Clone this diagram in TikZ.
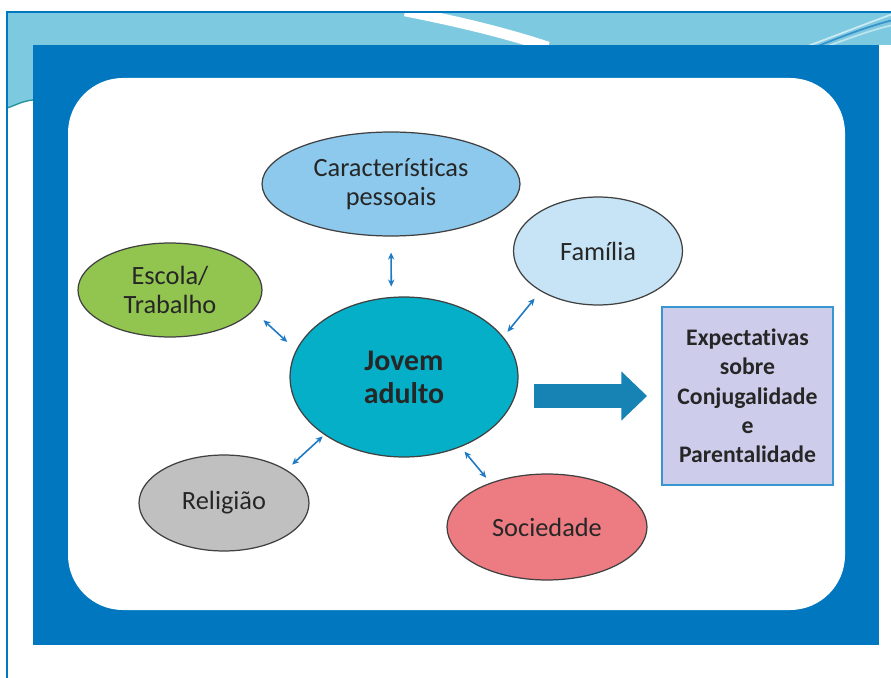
\documentclass[tikz,border=0pt]{standalone}
\usepackage{fontspec}
\setmainfont{Carlito}[Ligatures=NoCommon]
\usetikzlibrary{shapes,arrows.meta}

\definecolor{frameblue}{RGB}{0,119,190}
\definecolor{bandblue}{RGB}{125,202,224}
\definecolor{linkblue}{RGB}{30,122,196}
\definecolor{arrowteal}{RGB}{22,131,180}
\definecolor{caractfill}{RGB}{140,201,236}
\definecolor{familiafill}{RGB}{198,228,245}
\definecolor{escolafill}{RGB}{146,196,80}
\definecolor{jovemfill}{RGB}{6,175,200}
\definecolor{religiaofill}{RGB}{192,192,192}
\definecolor{sociedadefill}{RGB}{236,124,130}
\definecolor{expectfill}{RGB}{205,205,235}
\definecolor{expectborder}{RGB}{55,150,210}

\begin{document}
\begin{tikzpicture}[x=0.02cm, y=-0.02cm]
\tikzstyle{bubble}=[ellipse, draw=black!75, line width=0.7pt, inner sep=0pt, text=black!85, font=\fontsize{15}{17}\selectfont, align=center]
\tikzstyle{link}=[draw=linkblue, line width=0.9pt, {Stealth[length=4pt,width=3.6pt]}-{Stealth[length=4pt,width=3.6pt]}]
\tikzstyle{bigarrow}=[draw=arrowteal, line width=13.6pt, -{Triangle[length=14.7pt,width=27.2pt]}]

\useasboundingbox (0,0) rectangle (891,678);

% slide background
\fill[white] (0,0) rectangle (891,678);
\fill[bandblue] (7,12) rectangle (891,45);
\fill[bandblue] (7,45) -- (33,45) -- (33,100) .. controls (22,101) and (14,106) .. (7,108) -- cycle;
\draw[teal!70!bandblue, line width=0.8pt] (33,100) .. controls (22,101) and (14,106) .. (7,108);
\begin{scope}
\clip (7,12) rectangle (891,45);
\draw[white, line width=6pt] (405,11) .. controls (450,20) and (500,31) .. (548,47);
\draw[white!60!bandblue, line width=1pt] (808,46) .. controls (840,34) and (865,24) .. (893,14);
\draw[linkblue!70!bandblue, line width=1pt] (818,46) .. controls (848,34) and (870,26) .. (893,20);
\draw[white!50!bandblue, line width=1pt] (828,46) .. controls (855,36) and (875,29) .. (893,25);
\end{scope}
\draw[frameblue, line width=1.2pt] (891,12) -- (7,12) -- (7,678);

% blue frame with white panel
\fill[frameblue] (33,45) rectangle (879,645);
\fill[white, rounded corners=1.1cm] (68,78) rectangle (845,610);

% nodes
\node[bubble, fill=caractfill, minimum width=5.16cm, minimum height=2.08cm] (caract) at (391,184) {Características\\pessoais};
\node[bubble, fill=familiafill, minimum width=3.38cm, minimum height=2.16cm] (familia) at (598,251) {Família};
\node[bubble, fill=escolafill, minimum width=3.68cm, minimum height=1.88cm] (escola) at (170,290) {Escola/\\Trabalho};
\node[bubble, fill=jovemfill, minimum width=4.56cm, minimum height=3.2cm, font=\fontsize{17}{18.7}\selectfont\bfseries] (jovem) at (404,377) {Jovem\\adulto};
\node[bubble, fill=religiaofill, minimum width=3.4cm, minimum height=1.92cm] (religiao) at (224,503) {Religião};
\node[bubble, fill=sociedadefill, minimum width=4.0cm, minimum height=2.12cm] (sociedade) at (547,527) {Sociedade};
\node[rectangle, draw=expectborder, line width=1.2pt, fill=expectfill, minimum width=3.42cm, minimum height=3.56cm, inner sep=0pt, align=center, text=black!85, font=\fontsize{13.5}{16.7}\selectfont\bfseries] (expect) at (747.5,396) {Expectativas\\sobre\\Conjugalidade\\e\\Parentalidade};

% connectors
\draw[link, shorten <=9.1pt, shorten >=5.9pt] (caract.south) -- (jovem.99);
\draw[link, shorten <=3.7pt, shorten >=5.4pt] (jovem.22) -- (familia.215);
\draw[link, shorten <=7.9pt, shorten >=6.8pt] (escola.-14) -- (jovem.166);
\draw[link, shorten <=4.4pt, shorten >=1.3pt] (religiao.28) -- (jovem.216);
\draw[link, shorten <=3.4pt, shorten >=3.7pt] (jovem.-51) -- (sociedade.142);
\draw[bigarrow, shorten <=8.5pt, shorten >=7.9pt] (jovem.east |- expect.west) -- (expect.west);
\end{tikzpicture}
\end{document}
